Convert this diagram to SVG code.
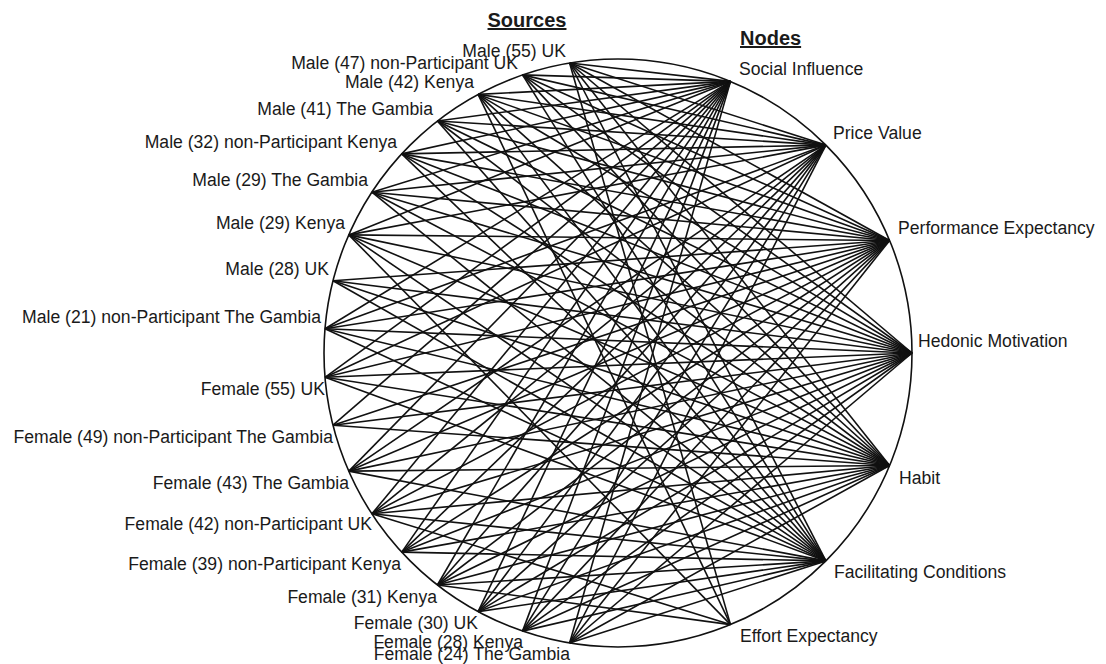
<svg xmlns="http://www.w3.org/2000/svg" width="1106" height="664" viewBox="0 0 1106 664">
<style>
  .lbl { font-family: "Liberation Sans", Arial, sans-serif; font-size: 17.6px; fill: #1a1a1a; }
  .src { text-anchor: end; }
  .title { font-family: "Liberation Sans", Arial, sans-serif; font-size: 20px; font-weight: bold; fill: #1a1a1a; text-decoration: underline; }
  .edges line { stroke: #111; stroke-width: 1.6; }
  .ring { fill: none; stroke: #111; stroke-width: 1.6; }
</style>
<rect width="1106" height="664" fill="#fff"/>
<circle class="ring" cx="618" cy="353" r="294"/>
<text class="title" x="527" y="27" text-anchor="middle">Sources</text>
<text class="title" x="740" y="45">Nodes</text>
<g class="edges">
  <!-- Social Influence (730.5,81.4) -->
  <line x1="569.6" y1="63" x2="730.5" y2="81.4"/>
  <line x1="522.5" y1="74.9" x2="730.5" y2="81.4"/>
  <line x1="478.1" y1="94.4" x2="730.5" y2="81.4"/>
  <line x1="437.4" y1="121" x2="730.5" y2="81.4"/>
  <line x1="401.7" y1="153.9" x2="730.5" y2="81.4"/>
  <line x1="371.9" y1="192.2" x2="730.5" y2="81.4"/>
  <line x1="348.8" y1="234.9" x2="730.5" y2="81.4"/>
  <line x1="325" y1="328.7" x2="730.5" y2="81.4"/>
  <line x1="325" y1="377.3" x2="730.5" y2="81.4"/>
  <line x1="333" y1="425.2" x2="730.5" y2="81.4"/>
  <line x1="348.8" y1="471.1" x2="730.5" y2="81.4"/>
  <line x1="371.9" y1="513.8" x2="730.5" y2="81.4"/>
  <line x1="401.7" y1="552.1" x2="730.5" y2="81.4"/>
  <line x1="437.4" y1="585" x2="730.5" y2="81.4"/>
  <line x1="478.1" y1="611.6" x2="730.5" y2="81.4"/>
  <line x1="522.5" y1="631.1" x2="730.5" y2="81.4"/>
  <line x1="569.6" y1="643" x2="730.5" y2="81.4"/>
  <!-- Price Value (825.9,145.1) -->
  <line x1="569.6" y1="63" x2="825.9" y2="145.1"/>
  <line x1="522.5" y1="74.9" x2="825.9" y2="145.1"/>
  <line x1="478.1" y1="94.4" x2="825.9" y2="145.1"/>
  <line x1="437.4" y1="121" x2="825.9" y2="145.1"/>
  <line x1="401.7" y1="153.9" x2="825.9" y2="145.1"/>
  <line x1="371.9" y1="192.2" x2="825.9" y2="145.1"/>
  <line x1="348.8" y1="234.9" x2="825.9" y2="145.1"/>
  <line x1="325" y1="328.7" x2="825.9" y2="145.1"/>
  <line x1="325" y1="377.3" x2="825.9" y2="145.1"/>
  <line x1="348.8" y1="471.1" x2="825.9" y2="145.1"/>
  <line x1="371.9" y1="513.8" x2="825.9" y2="145.1"/>
  <line x1="401.7" y1="552.1" x2="825.9" y2="145.1"/>
  <line x1="437.4" y1="585" x2="825.9" y2="145.1"/>
  <line x1="478.1" y1="611.6" x2="825.9" y2="145.1"/>
  <line x1="522.5" y1="631.1" x2="825.9" y2="145.1"/>
  <line x1="569.6" y1="643" x2="825.9" y2="145.1"/>
  <!-- Performance Expectancy (889.6,240.5) -->
  <line x1="569.6" y1="63" x2="889.6" y2="240.5"/>
  <line x1="522.5" y1="74.9" x2="889.6" y2="240.5"/>
  <line x1="478.1" y1="94.4" x2="889.6" y2="240.5"/>
  <line x1="437.4" y1="121" x2="889.6" y2="240.5"/>
  <line x1="401.7" y1="153.9" x2="889.6" y2="240.5"/>
  <line x1="371.9" y1="192.2" x2="889.6" y2="240.5"/>
  <line x1="348.8" y1="234.9" x2="889.6" y2="240.5"/>
  <line x1="333" y1="280.8" x2="889.6" y2="240.5"/>
  <line x1="325" y1="328.7" x2="889.6" y2="240.5"/>
  <line x1="325" y1="377.3" x2="889.6" y2="240.5"/>
  <line x1="333" y1="425.2" x2="889.6" y2="240.5"/>
  <line x1="348.8" y1="471.1" x2="889.6" y2="240.5"/>
  <line x1="371.9" y1="513.8" x2="889.6" y2="240.5"/>
  <line x1="401.7" y1="552.1" x2="889.6" y2="240.5"/>
  <line x1="437.4" y1="585" x2="889.6" y2="240.5"/>
  <line x1="478.1" y1="611.6" x2="889.6" y2="240.5"/>
  <line x1="522.5" y1="631.1" x2="889.6" y2="240.5"/>
  <line x1="569.6" y1="643" x2="889.6" y2="240.5"/>
  <!-- Hedonic Motivation (912,353) -->
  <line x1="569.6" y1="63" x2="912" y2="353"/>
  <line x1="522.5" y1="74.9" x2="912" y2="353"/>
  <line x1="478.1" y1="94.4" x2="912" y2="353"/>
  <line x1="437.4" y1="121" x2="912" y2="353"/>
  <line x1="401.7" y1="153.9" x2="912" y2="353"/>
  <line x1="371.9" y1="192.2" x2="912" y2="353"/>
  <line x1="348.8" y1="234.9" x2="912" y2="353"/>
  <line x1="333" y1="280.8" x2="912" y2="353"/>
  <line x1="325" y1="328.7" x2="912" y2="353"/>
  <line x1="325" y1="377.3" x2="912" y2="353"/>
  <line x1="333" y1="425.2" x2="912" y2="353"/>
  <line x1="348.8" y1="471.1" x2="912" y2="353"/>
  <line x1="371.9" y1="513.8" x2="912" y2="353"/>
  <line x1="401.7" y1="552.1" x2="912" y2="353"/>
  <line x1="437.4" y1="585" x2="912" y2="353"/>
  <line x1="478.1" y1="611.6" x2="912" y2="353"/>
  <line x1="522.5" y1="631.1" x2="912" y2="353"/>
  <line x1="569.6" y1="643" x2="912" y2="353"/>
  <!-- Habit (889.6,465.5) -->
  <line x1="569.6" y1="63" x2="889.6" y2="465.5"/>
  <line x1="522.5" y1="74.9" x2="889.6" y2="465.5"/>
  <line x1="478.1" y1="94.4" x2="889.6" y2="465.5"/>
  <line x1="437.4" y1="121" x2="889.6" y2="465.5"/>
  <line x1="401.7" y1="153.9" x2="889.6" y2="465.5"/>
  <line x1="371.9" y1="192.2" x2="889.6" y2="465.5"/>
  <line x1="348.8" y1="234.9" x2="889.6" y2="465.5"/>
  <line x1="333" y1="280.8" x2="889.6" y2="465.5"/>
  <line x1="325" y1="328.7" x2="889.6" y2="465.5"/>
  <line x1="325" y1="377.3" x2="889.6" y2="465.5"/>
  <line x1="333" y1="425.2" x2="889.6" y2="465.5"/>
  <line x1="348.8" y1="471.1" x2="889.6" y2="465.5"/>
  <line x1="371.9" y1="513.8" x2="889.6" y2="465.5"/>
  <line x1="401.7" y1="552.1" x2="889.6" y2="465.5"/>
  <line x1="437.4" y1="585" x2="889.6" y2="465.5"/>
  <line x1="478.1" y1="611.6" x2="889.6" y2="465.5"/>
  <line x1="522.5" y1="631.1" x2="889.6" y2="465.5"/>
  <line x1="569.6" y1="643" x2="889.6" y2="465.5"/>
  <!-- Facilitating Conditions (825.9,560.9) -->
  <line x1="569.6" y1="63" x2="825.9" y2="560.9"/>
  <line x1="522.5" y1="74.9" x2="825.9" y2="560.9"/>
  <line x1="478.1" y1="94.4" x2="825.9" y2="560.9"/>
  <line x1="437.4" y1="121" x2="825.9" y2="560.9"/>
  <line x1="401.7" y1="153.9" x2="825.9" y2="560.9"/>
  <line x1="371.9" y1="192.2" x2="825.9" y2="560.9"/>
  <line x1="348.8" y1="234.9" x2="825.9" y2="560.9"/>
  <line x1="333" y1="280.8" x2="825.9" y2="560.9"/>
  <line x1="325" y1="328.7" x2="825.9" y2="560.9"/>
  <line x1="325" y1="377.3" x2="825.9" y2="560.9"/>
  <line x1="348.8" y1="471.1" x2="825.9" y2="560.9"/>
  <line x1="371.9" y1="513.8" x2="825.9" y2="560.9"/>
  <line x1="401.7" y1="552.1" x2="825.9" y2="560.9"/>
  <line x1="437.4" y1="585" x2="825.9" y2="560.9"/>
  <line x1="478.1" y1="611.6" x2="825.9" y2="560.9"/>
  <line x1="522.5" y1="631.1" x2="825.9" y2="560.9"/>
  <line x1="569.6" y1="643" x2="825.9" y2="560.9"/>
  <!-- Effort Expectancy (730.5,624.6) -->
  <line x1="569.6" y1="63" x2="730.5" y2="624.6"/>
  <line x1="478.1" y1="94.4" x2="730.5" y2="624.6"/>
  <line x1="348.8" y1="234.9" x2="730.5" y2="624.6"/>
  <line x1="371.9" y1="513.8" x2="730.5" y2="624.6"/>
  <line x1="437.4" y1="585" x2="730.5" y2="624.6"/>
</g>
<g id="src-m55uk"><text class="lbl src" x="566" y="57">Male (55) UK</text></g>
<g id="src-m47np-uk"><text class="lbl src" x="518" y="69">Male (47) non-Participant UK</text></g>
<g id="src-m42ke"><text class="lbl src" x="474" y="88">Male (42) Kenya</text></g>
<g id="src-m41gm"><text class="lbl src" x="433" y="115">Male (41) The Gambia</text></g>
<g id="src-m32np-ke"><text class="lbl src" x="397" y="148">Male (32) non-Participant Kenya</text></g>
<g id="src-m29gm"><text class="lbl src" x="368" y="186">Male (29) The Gambia</text></g>
<g id="src-m29ke"><text class="lbl src" x="345" y="229">Male (29) Kenya</text></g>
<g id="src-m28uk"><text class="lbl src" x="329" y="275">Male (28) UK</text></g>
<g id="src-m21np-gm"><text class="lbl src" x="321" y="323">Male (21) non-Participant The Gambia</text></g>
<g id="src-f55uk"><text class="lbl src" x="325" y="395">Female (55) UK</text></g>
<g id="src-f49np-gm"><text class="lbl src" x="333" y="443">Female (49) non-Participant The Gambia</text></g>
<g id="src-f43gm"><text class="lbl src" x="349" y="489">Female (43) The Gambia</text></g>
<g id="src-f42np-uk"><text class="lbl src" x="372" y="530">Female (42) non-Participant UK</text></g>
<g id="src-f39np-ke"><text class="lbl src" x="401" y="570">Female (39) non-Participant Kenya</text></g>
<g id="src-f31ke"><text class="lbl src" x="437" y="603">Female (31) Kenya</text></g>
<g id="src-f30uk"><text class="lbl src" x="478" y="629">Female (30) UK</text></g>
<g id="src-f28ke"><text class="lbl src" x="523" y="648">Female (28) Kenya</text></g>
<g id="src-f24gm"><text class="lbl src" x="570" y="660">Female (24) The Gambia</text></g>
<g id="node-social"><text class="lbl" x="739" y="75">Social Influence</text></g>
<g id="node-price"><text class="lbl" x="833" y="139">Price Value</text></g>
<g id="node-performance"><text class="lbl" x="898" y="234">Performance Expectancy</text></g>
<g id="node-hedonic"><text class="lbl" x="918" y="347">Hedonic Motivation</text></g>
<g id="node-habit"><text class="lbl" x="899" y="484">Habit</text></g>
<g id="node-facilitating"><text class="lbl" x="834" y="578">Facilitating Conditions</text></g>
<g id="node-effort"><text class="lbl" x="740" y="642">Effort Expectancy</text></g>
</svg>
